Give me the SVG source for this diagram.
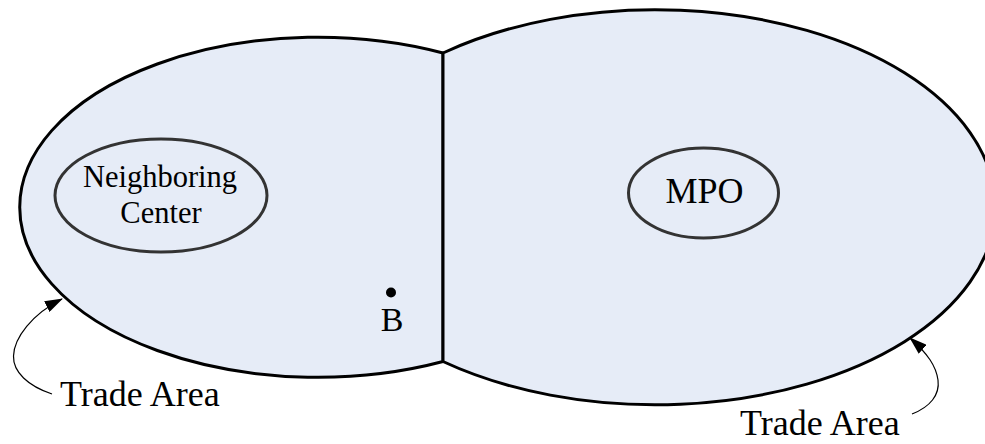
<svg xmlns="http://www.w3.org/2000/svg" width="985" height="444" viewBox="0 0 985 444">
  <style>
    .area { fill: #E6ECF7; stroke: #000; stroke-width: 3; stroke-linejoin: miter; }
    .center { fill: none; stroke: #333; stroke-width: 3; }
    .label { font-family: "Liberation Serif", "Times New Roman", serif; fill: #000; }
    .pointer { fill: none; stroke: #000; stroke-width: 1.2; }
  </style>
  <defs>
    <marker id="arrow" viewBox="0 0 18 12" refX="17" refY="6" markerWidth="18" markerHeight="12" markerUnits="userSpaceOnUse" orient="auto">
      <path d="M0,0 L18,6 L0,12 Z" fill="#000"/>
    </marker>
  </defs>

  <!-- trade area of the neighboring center (left lobe) -->
  <g id="neighbor-trade-area">
    <path class="area" d="M443 53 A298 170 0 1 0 443 361.5 Z"/>
  </g>

  <!-- trade area of the MPO (right lobe) -->
  <g id="mpo-trade-area">
    <path class="area" d="M443 53 A340 197.5 0 1 1 443 361.5 Z"/>
  </g>

  <g id="neighboring-center">
    <ellipse class="center" cx="161" cy="195.5" rx="106" ry="56.5"/>
    <text class="label" x="160" y="187" font-size="30.5" text-anchor="middle">Neighboring</text>
    <text class="label" x="161" y="223" font-size="30.5" text-anchor="middle">Center</text>
  </g>

  <g id="mpo">
    <ellipse class="center" cx="703.5" cy="193" rx="75" ry="45"/>
    <text class="label" x="704.5" y="203" font-size="36" text-anchor="middle">MPO</text>
  </g>

  <g id="point-b">
    <circle cx="391" cy="292.5" r="5" fill="#000"/>
    <text class="label" x="392" y="331" font-size="34" text-anchor="middle">B</text>
  </g>

  <g id="label-left">
    <text class="label" x="60" y="406" font-size="36">Trade Area</text>
  </g>

  <g id="label-right">
    <text class="label" x="740" y="435" font-size="36">Trade Area</text>
  </g>

  <!-- pointers from the labels to the area boundaries -->
  <g id="connectors">
    <path class="pointer" marker-end="url(#arrow)" d="M52 394 C28 386 13 372 13.5 356 C14 338 32 314 62 299"/>
    <path class="pointer" marker-end="url(#arrow)" d="M912 414 C930 407 940 395 938 380 C936 366 928 354 910 338"/>
  </g>
</svg>
